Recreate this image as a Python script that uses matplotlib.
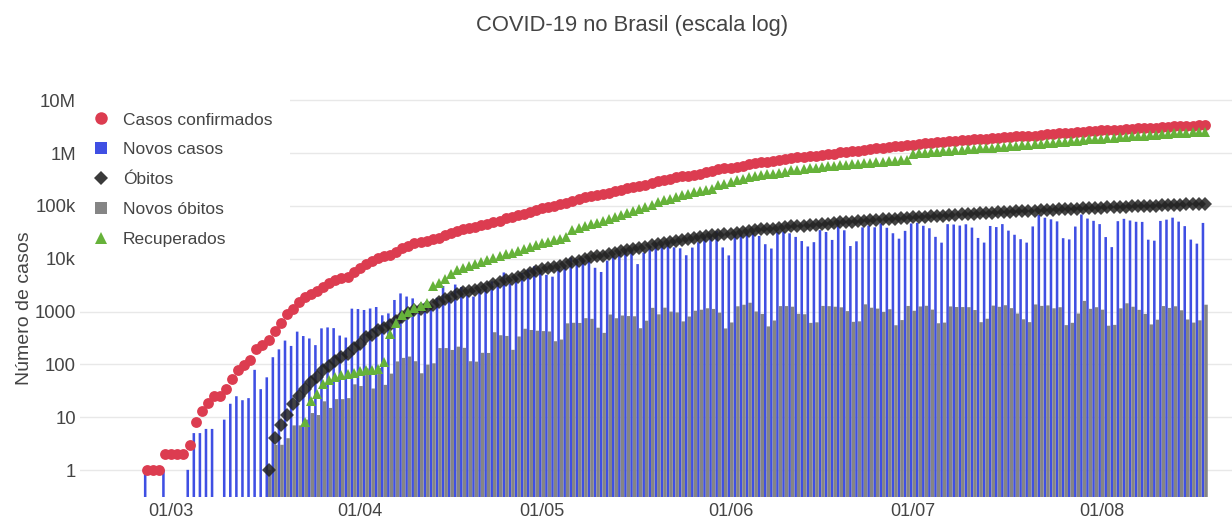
import numpy as np
import pandas as pd
import matplotlib
matplotlib.use("Agg")
import matplotlib.pyplot as plt
import matplotlib.dates as mdates
from matplotlib.lines import Line2D

plt.rcParams["font.family"] = ["Liberation Sans", "DejaVu Sans"]

# ── Data (Brasil, casos acumulados por dia) ───────────────────────────────────
CASES_START     = "2020-02-26"
DEATHS_START    = "2020-03-17"
RECOVERED_START = "2020-03-23"

confirmed = [
    1, 1, 1, 2,
    2, 2, 2, 3, 8, 13, 19, 25, 25, 34, 52, 77, 98, 121, 200, 234, 291, 428, 621, 904,
    1128, 1546, 1891, 2201, 2433, 2915, 3417, 3904, 4256, 4579, 5717,
    6836, 7910, 9056, 10278, 11130, 12056, 13717, 15927, 17857, 19638, 20727, 22169,
    23430, 25262, 28320, 30425, 33682, 36599, 38654, 40581, 43079, 45757, 49492, 52995,
    58509, 61888, 66501, 71886, 78162, 85380,
    91589, 96559, 101147, 107780, 114715, 125218, 135106, 145328, 155939, 162699, 168331,
    177589, 188974, 202918, 218223, 233142, 241080, 254220, 271628, 291579, 310087,
    330890, 347398, 363211, 374898, 391222, 411821, 438238, 465166, 498440, 514849,
    526447, 555383, 584016, 614941, 645771, 672846, 691758, 707412, 739503, 772416,
    802828, 828810, 850514, 867624, 888271, 923189, 955377, 978142, 1032913, 1067579,
    1085038, 1106470, 1145906, 1188631, 1228114, 1274974, 1313667, 1344143, 1368195, 1402041,
    1448753, 1496858, 1539081, 1577004, 1603055, 1623284, 1668589, 1713160, 1755779, 1800827,
    1839850, 1864681, 1884967, 1926824, 1966748, 2012151, 2046328, 2074860, 2098389, 2118646,
    2159654, 2227514, 2287475, 2343366, 2394513, 2419091, 2442375, 2483191, 2552265, 2610102,
    2662485,
    2707877, 2733677, 2750318, 2801921, 2859073, 2912212, 2962442, 3012412, 3035422, 3057470,
    3109630, 3164785, 3224876, 3275520, 3317096, 3340197, 3359570, 3407354,
]

deaths = [
    1, 4, 7, 11, 18, 25, 34, 46, 57, 77, 92, 114, 136, 159, 201,
    240, 324, 359, 445, 486, 553, 667, 800, 941, 1056, 1124, 1223, 1328, 1532, 1736,
    1924, 2141, 2347, 2462, 2575, 2741, 2906, 3313, 3670, 4016, 4205, 4543, 5017, 5466, 5901,
    6329, 6750, 7025, 7321, 7921, 8536, 9146, 9897, 10627, 11123, 11519, 12400, 13149, 13993,
    14817, 15633, 16118, 16792, 17971, 18859, 20047, 21048, 22013, 22666, 23473, 24512, 25598,
    26754, 27878, 28834, 29314,
    29937, 31199, 32548, 34021, 35026, 35930, 36455, 37134, 38406, 39680, 40919, 41828, 42720,
    43332, 43959, 45241, 46510, 47748, 48954, 49976, 50617, 51271, 52645, 53830, 54971, 55961,
    57070, 57622, 58314, 59594,
    60632, 61884, 63174, 64265, 64867, 65487, 66741, 67964, 69184, 70398, 71469, 72100, 72833,
    74133, 75366, 76688, 77851, 78772, 79488, 80120, 81487, 82771, 84082, 85238, 86449, 87004,
    87618, 88539, 90134, 91263, 92475,
    93563, 94104, 94665, 95819, 97256, 98493, 99572, 100477, 101049, 101752, 103026, 104201,
    105463, 106523, 107232, 107852, 108536, 109888,
]

recovered = [
    8, 20, 28, 42, 50, 58, 62, 66, 70,
    75, 78, 80, 82, 112, 380, 620, 850, 1000, 1180, 1280, 1450, 3000, 3500, 4200, 5200,
    6200, 6800, 7300, 7900, 8600, 9400, 10500, 11400, 12300, 13100, 14000, 15200, 16800, 18000,
    19500, 21000, 22500, 24000, 25500, 35000, 38000, 41500, 45000, 48000, 52000, 56000, 61000,
    67000, 74000, 80000, 86000, 94000, 106000, 120000, 128000, 138000, 149000, 160000, 172000,
    185000, 195000, 202000, 208000, 255000, 265000,
    285000, 305000, 325000, 348000, 370000, 385000, 398000, 412000, 428000, 448000, 470000,
    485000, 500000, 515000, 530000, 550000, 565000, 580000, 595000, 605000, 615000, 630000,
    645000, 660000, 675000, 690000, 705000, 715000, 728000, 745000,
    980000, 1000000, 1020000, 1045000, 1065000, 1085000, 1110000, 1135000, 1160000, 1185000,
    1210000, 1230000, 1250000, 1275000, 1300000, 1330000, 1360000, 1390000, 1410000, 1430000,
    1460000, 1500000, 1540000, 1580000, 1620000, 1650000, 1680000, 1720000, 1770000, 1820000,
    1860000,
    1890000, 1920000, 1950000, 1990000, 2030000, 2070000, 2110000, 2150000, 2180000, 2210000,
    2260000, 2310000, 2360000, 2410000, 2450000, 2480000, 2510000, 2560000,
]

Y_TICKS  = [1, 10, 100, 1000, 1e4, 1e5, 1e6, 1e7]
Y_LABELS = ["1", "10", "100", "1000", "10k", "100k", "1M", "10M"]
X_TICKS  = ["2020-03-01", "2020-04-01", "2020-05-01", "2020-06-01", "2020-07-01", "2020-08-01"]

# ── Colours ───────────────────────────────────────────────────────────────────
RED   = "#DC3C50"
BLUE  = "#3F4FE3"
BLACK = "#222222"
GREY  = "#858585"
GREEN = "#66B23A"
TEXT  = "#444444"


def day_index(start, n):
    return mdates.date2num(pd.date_range(start, periods=n, freq="D").to_pydatetime())


def main():
    x_cases = day_index(CASES_START, len(confirmed))
    x_deaths = day_index(DEATHS_START, len(deaths))
    x_rec = day_index(RECOVERED_START, len(recovered))

    new_cases = np.diff(np.array(confirmed, dtype=float), prepend=0)
    new_deaths = np.diff(np.array(deaths, dtype=float), prepend=0)

    fig = plt.figure(figsize=(12.32, 5.22), dpi=100)
    ax = fig.add_axes([0.065, 0.0479, 0.94, 0.7659])

    # bars: novos casos (left) and novos óbitos (right), side by side
    mc = new_cases > 0
    ax.bar(x_cases[mc] - 0.29, new_cases[mc], width=0.42, bottom=0.01,
           color=BLUE, linewidth=0, snap=False, zorder=2)
    md = new_deaths > 0
    ax.bar(x_deaths[md] + 0.21, new_deaths[md], width=0.58, bottom=0.01,
           color=GREY, linewidth=0, snap=False, zorder=2)

    # cumulative series
    ax.plot(x_cases, confirmed, "o", color=RED, markersize=7.8, markeredgewidth=0, zorder=3)
    ax.plot(x_deaths, deaths, "D", color=BLACK, alpha=0.85, markersize=7,
            markeredgewidth=0, zorder=4)
    ax.plot(x_rec, recovered, "^", color=GREEN, markersize=7.5, markeredgewidth=0, zorder=5)

    ax.set_yscale("log")
    ax.set_ylim(10 ** -0.51, 10 ** 7.06)
    x0 = mdates.date2num(pd.Timestamp(CASES_START))
    ax.set_xlim(x0 - 11.0, x0 + 179.5)

    ax.set_yticks(Y_TICKS)
    ax.set_yticklabels(Y_LABELS)
    ax.minorticks_off()
    ax.set_xticks(mdates.date2num(pd.to_datetime(X_TICKS).to_pydatetime()))
    ax.xaxis.set_major_formatter(mdates.DateFormatter("%d/%m"))
    ax.tick_params(axis="both", length=0, labelsize=13.3, labelcolor=TEXT)
    ax.tick_params(axis="x", pad=4, labelsize=13)
    ax.tick_params(axis="y", pad=3)

    ax.grid(True, axis="y", color="#E8E8E8", linewidth=1)
    ax.set_axisbelow(True)
    for spine in ax.spines.values():
        spine.set_visible(False)

    fig.text(0.513, 1 - 26 / 522, "COVID-19 no Brasil (escala log)", ha="center",
             va="center", fontsize=15.8, color=TEXT)
    fig.text(25 / 1232, 1 - 308 / 522, "Número de casos", ha="center", va="center",
             rotation=90, fontsize=14, color=TEXT)

    handles = [
        Line2D([], [], linestyle="none", marker="o", color=RED, markersize=9, markeredgewidth=0),
        Line2D([], [], linestyle="none", marker="s", color=BLUE, markersize=9, markeredgewidth=0),
        Line2D([], [], linestyle="none", marker="D", color="#3a3a3a", markersize=7.5, markeredgewidth=0),
        Line2D([], [], linestyle="none", marker="s", color=GREY, markersize=9, markeredgewidth=0),
        Line2D([], [], linestyle="none", marker="^", color=GREEN, markersize=8, markeredgewidth=0),
    ]
    labels = ["Casos confirmados", "Novos casos", "Óbitos", "Novos óbitos", "Recuperados"]
    leg = ax.legend(handles, labels, loc="upper left", bbox_to_anchor=(76 / 1232, 1 - 95 / 522),
                    bbox_transform=fig.transFigure, fontsize=12.5, frameon=True,
                    facecolor="white", edgecolor="none", framealpha=1, fancybox=False,
                    borderpad=1.0, handlelength=0.9, handletextpad=0.8, labelspacing=0.85,
                    borderaxespad=0)
    for t in leg.get_texts():
        t.set_color(TEXT)
    leg.set_zorder(10)

    fig.savefig("out.png", dpi=100)


if __name__ == "__main__":
    main()
